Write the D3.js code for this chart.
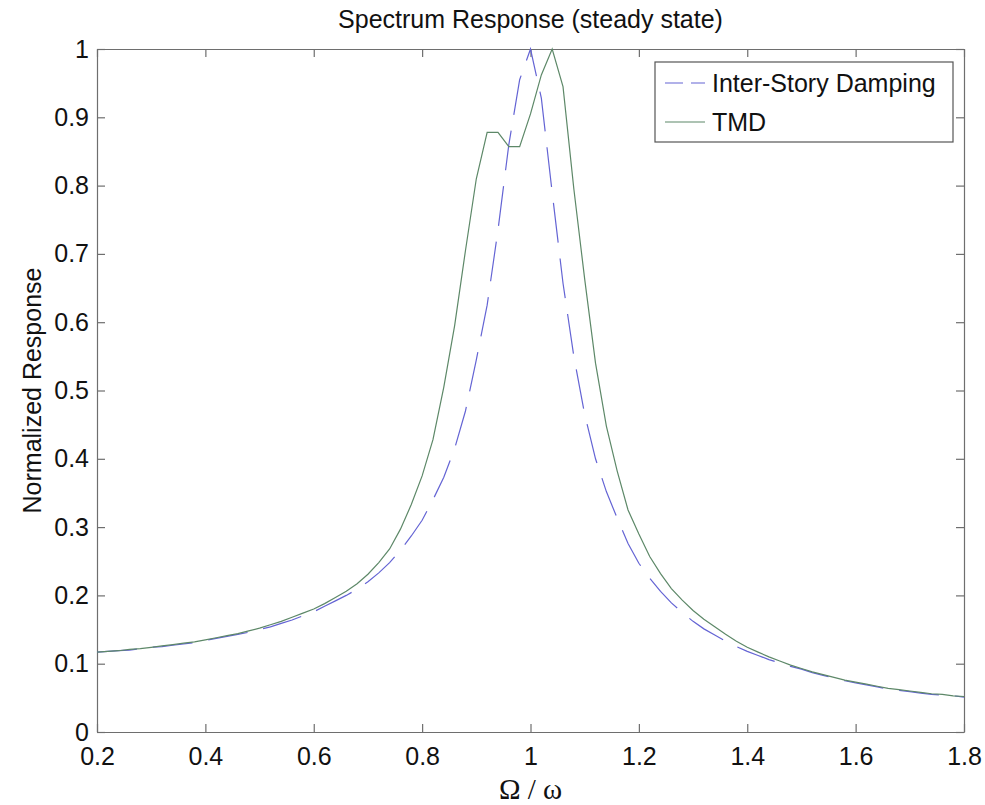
<!DOCTYPE html>
<html>
<head>
<meta charset="utf-8">
<script src="https://cdn.jsdelivr.net/npm/d3@7"></script>
<style>
    body { margin: 0; background: #fff; }
    text { font-family: 'Liberation Sans', Arial, sans-serif; fill: #111; }
</style>
</head>
<body>
<svg id="chart" width="985" height="805"></svg>
<script>
// frequency ratio samples
const ratio = d3.range(0, 81).map(i => +(0.2 + i * 0.02).toFixed(2));

const interStory = [
    0.117, 0.118, 0.119, 0.120, 0.122, 0.124, 0.125, 0.127, 0.129, 0.131,
    0.134, 0.137, 0.140, 0.143, 0.146, 0.150, 0.154, 0.159, 0.164, 0.170,
    0.176, 0.184, 0.192, 0.200, 0.209, 0.220, 0.233, 0.248, 0.266, 0.287,
    0.310, 0.340, 0.373, 0.415, 0.470, 0.545, 0.625, 0.735, 0.860, 0.955,
    1.000, 0.928, 0.790, 0.657, 0.550, 0.465, 0.400, 0.352, 0.313, 0.276,
    0.247, 0.225, 0.206, 0.189, 0.175, 0.162, 0.151, 0.142, 0.133, 0.125,
    0.118, 0.112, 0.106, 0.101, 0.096, 0.092, 0.087, 0.083, 0.079, 0.075,
    0.072, 0.069, 0.066, 0.063, 0.061, 0.059, 0.057, 0.055, 0.054, 0.053,
    0.051
];

const tmd = [
    0.117, 0.118, 0.119, 0.121, 0.122, 0.124, 0.126, 0.128, 0.130, 0.132,
    0.135, 0.138, 0.141, 0.144, 0.148, 0.152, 0.157, 0.162, 0.168, 0.174,
    0.180, 0.188, 0.197, 0.206, 0.217, 0.231, 0.248, 0.268, 0.297, 0.333,
    0.375, 0.428, 0.505, 0.595, 0.705, 0.810, 0.878, 0.878, 0.857, 0.857,
    0.905, 0.962, 1.000, 0.945, 0.795, 0.663, 0.540, 0.448, 0.382, 0.325,
    0.290, 0.257, 0.232, 0.210, 0.193, 0.178, 0.165, 0.154, 0.143, 0.133,
    0.124, 0.117, 0.110, 0.104, 0.098, 0.093, 0.088, 0.084, 0.080, 0.076,
    0.073, 0.070, 0.067, 0.064, 0.062, 0.060, 0.058, 0.056, 0.055, 0.053,
    0.052
];

const xTicks = [0.2, 0.4, 0.6, 0.8, 1, 1.2, 1.4, 1.6, 1.8];
const yTicks = [0, 0.1, 0.2, 0.3, 0.4, 0.5, 0.6, 0.7, 0.8, 0.9, 1];

const series = [
    {name: 'Inter-Story Damping', values: interStory, color: '#6464d4', dash: '40,16'},
    {name: 'TMD', values: tmd, color: '#5d8868', dash: null}
];

const margin = {top: 49, right: 21, bottom: 73, left: 97};
const width = 985 - margin.left - margin.right,
    height = 805 - margin.top - margin.bottom;

const svg = d3.select('#chart');
const g = svg.append('g')
    .attr('transform', 'translate(' + margin.left + ',' + margin.top + ')');

const x = d3.scaleLinear().domain([0.2, 1.8]).range([0, width]);
const y = d3.scaleLinear().domain([0, 1]).range([height, 0]);

const tickLen = 8;
const fmt = d => String(d);

// axes, ticks pointing inward, mirrored on top/right
g.append('g')
    .attr('class', 'axis')
    .attr('transform', 'translate(0,' + height + ')')
    .call(d3.axisBottom(x).tickValues(xTicks).tickFormat(fmt).tickSizeInner(-tickLen).tickSizeOuter(0).tickPadding(15));
g.append('g')
    .attr('class', 'axis')
    .call(d3.axisTop(x).tickValues(xTicks).tickFormat('').tickSizeInner(-tickLen).tickSizeOuter(0));
g.append('g')
    .attr('class', 'axis')
    .call(d3.axisLeft(y).tickValues(yTicks).tickFormat(fmt).tickSizeInner(-tickLen).tickSizeOuter(0).tickPadding(8));
g.append('g')
    .attr('class', 'axis')
    .attr('transform', 'translate(' + width + ',0)')
    .call(d3.axisRight(y).tickValues(yTicks).tickFormat('').tickSizeInner(-tickLen).tickSizeOuter(0));

g.selectAll('.axis path, .axis line')
    .attr('stroke', '#6e6e6e')
    .attr('stroke-width', 1.2);
g.selectAll('.axis text')
    .attr('font-size', 25)
    .attr('font-family', "'Liberation Sans', Arial, sans-serif")
    .attr('fill', '#111');

const line = d3.line()
    .x((d, i) => x(ratio[i]))
    .y(d => y(d));

g.selectAll('path.series')
    .data(series)
    .enter()
    .append('path')
    .attr('class', 'series')
    .attr('d', d => line(d.values))
    .attr('fill', 'none')
    .attr('stroke', d => d.color)
    .attr('stroke-width', 1.2)
    .attr('stroke-dasharray', d => d.dash);

// title and labels
svg.append('text')
    .attr('x', margin.left + width / 2)
    .attr('y', 28)
    .attr('text-anchor', 'middle')
    .attr('font-size', 25)
    .text('Spectrum Response (steady state)');

svg.append('text')
    .attr('x', margin.left + width / 2)
    .attr('y', 799)
    .attr('text-anchor', 'middle')
    .attr('font-size', 29)
    .style('font-family', "'Liberation Serif', 'Times New Roman', serif")
    .text('Ω / ω');

svg.append('text')
    .attr('transform', 'translate(41,' + (margin.top + height / 2) + ') rotate(-90)')
    .attr('text-anchor', 'middle')
    .attr('font-size', 25)
    .text('Normalized Response');

// legend
const legend = g.append('g')
    .attr('transform', 'translate(' + (x(1.8) - 309) + ',' + 13 + ')');

legend.append('rect')
    .attr('width', 298)
    .attr('height', 80)
    .attr('fill', '#fff')
    .attr('stroke', '#555')
    .attr('stroke-width', 1.2);

const item = legend.selectAll('g.item')
    .data(series)
    .enter()
    .append('g')
    .attr('class', 'item')
    .attr('transform', (d, i) => 'translate(0,' + (21 + i * 39) + ')');

item.append('line')
    .attr('x1', 10)
    .attr('x2', 50)
    .attr('stroke', d => d.color)
    .attr('stroke-width', 1.2)
    .attr('stroke-dasharray', d => d.dash ? '18,8' : null);

item.append('text')
    .attr('x', 57)
    .attr('dy', '0.36em')
    .attr('font-size', 25)
    .text(d => d.name);
</script>
</body>
</html>
